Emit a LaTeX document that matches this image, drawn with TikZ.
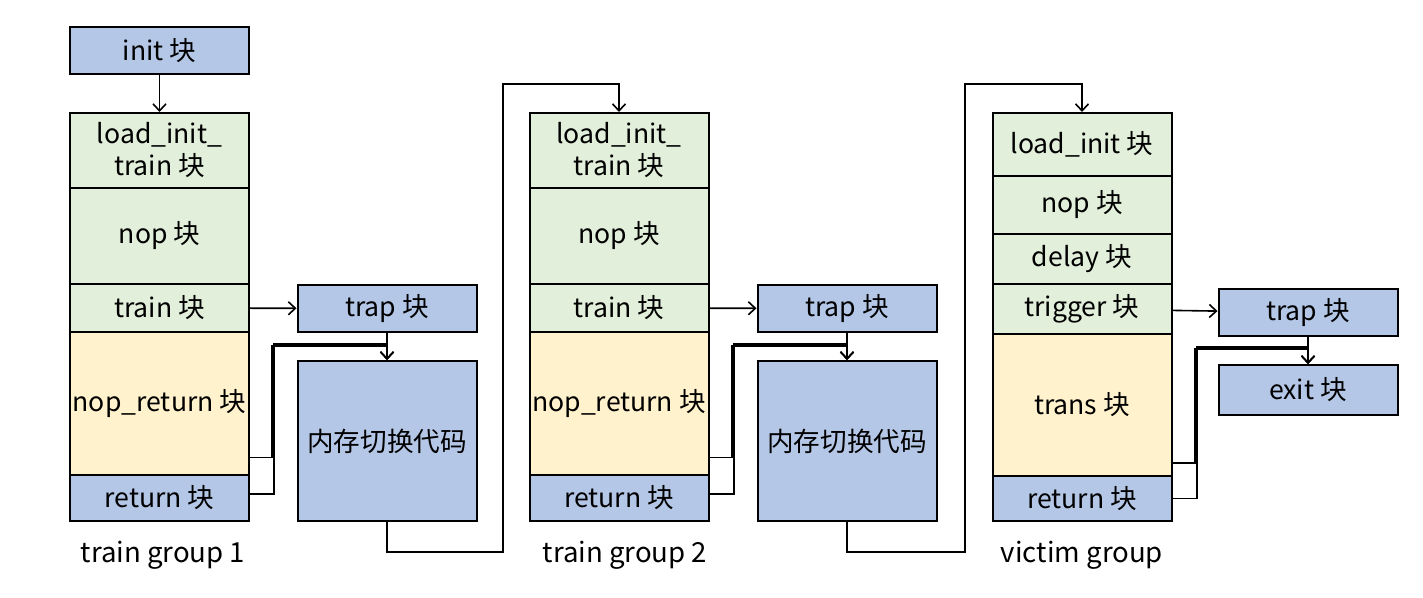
\documentclass[tikz,border=0pt]{standalone}
\usepackage{fontspec}
\setmainfont{Noto Sans CJK SC}
\usetikzlibrary{arrows.meta}
\begin{document}
\begin{tikzpicture}[x=0.5pt,y=-0.5pt,
  blk/.style={draw, line width=1pt, minimum width=89.5pt, inner sep=1pt, align=center,
    font=\fontsize{13.3}{16}\selectfont},
  blueblk/.style={blk, fill=blueclr},
  greenblk/.style={blk, fill=greenclr},
  yellowblk/.style={blk, fill=yellowclr},
  conn/.style={line width=0.8pt, -{Straight Barb[length=3.5pt,width=6.5pt]}},
  grouplabel/.style={font=\fontsize{13.8}{16}\selectfont}]
\definecolor{blueclr}{HTML}{B4C7E7}
\definecolor{greenclr}{HTML}{E2EFDA}
\definecolor{yellowclr}{HTML}{FFF2CC}
\useasboundingbox (0,0) rectangle (1423,598);

\node[blueblk, minimum height=23.5pt] (init) at (159.5,50.5) {init 块};

\node[greenblk, minimum height=37.5pt] (lit1) at (159.5,150.5) {load\_init\_\\train 块};
\node[greenblk, minimum height=48pt] (nop1) at (159.5,236) {nop 块};
\node[greenblk, minimum height=24pt] (train1) at (159.5,308) {train 块};
\node[yellowblk, minimum height=71.5pt] (nopret1) at (159.5,403.5) {nop\_return 块};
\node[blueblk, minimum height=23pt] (ret1) at (159.5,498) {return 块};
\node[blueblk, minimum height=23.5pt] (trap1) at (387,308.5) {trap 块};
\node[blueblk, minimum height=80pt] (mem1) at (387,441) {内存切换代码};
\node[grouplabel] (g1) at (163,555) {train group 1};

\node[greenblk, minimum height=37.5pt] (lit2) at (619,150.5) {load\_init\_\\train 块};
\node[greenblk, minimum height=48pt] (nop2) at (619,236) {nop 块};
\node[greenblk, minimum height=24pt] (train2) at (619,308) {train 块};
\node[yellowblk, minimum height=71.5pt] (nopret2) at (619,403.5) {nop\_return 块};
\node[blueblk, minimum height=23pt] (ret2) at (619,498) {return 块};
\node[blueblk, minimum height=23.5pt] (trap2) at (847,308.5) {trap 块};
\node[blueblk, minimum height=80pt] (mem2) at (847,441) {内存切换代码};
\node[grouplabel] (g2) at (625,555) {train group 2};

\node[greenblk, minimum height=31.5pt] (lit3) at (1082,144.5) {load\_init 块};
\node[greenblk, minimum height=29pt] (nop3) at (1082,205) {nop 块};
\node[greenblk, minimum height=25pt] (delay3) at (1082,259) {delay 块};
\node[greenblk, minimum height=25pt] (trig3) at (1082,309) {trigger 块};
\node[yellowblk, minimum height=71pt] (trans3) at (1082,405) {trans 块};
\node[blueblk, minimum height=22.5pt] (ret3) at (1082,498.5) {return 块};
\node[blueblk, minimum height=23.5pt] (trap3) at (1308,312.5) {trap 块};
\node[blueblk, minimum height=25pt] (exit3) at (1308,390) {exit 块};
\node[grouplabel] (g3) at (1082,555) {victim group};

\draw[conn] (init) -- (lit1);

\draw[conn] (train1) -- (trap1);
\draw[conn] (trap1) -- (mem1);
\draw[conn] ([yshift=-27pt]nopret1.east) -| (272,346) -| (mem1.north);
\draw[conn] ([yshift=2pt]ret1.east) -| (274,344) -| (mem1.north);
\draw[conn] (mem1.south) |- (503,552) -- (503,84) -| (lit2.north);

\draw[conn] (train2) -- (trap2);
\draw[conn] (trap2) -- (mem2);
\draw[conn] ([yshift=-27pt]nopret2.east) -| (732,346) -| (mem2.north);
\draw[conn] ([yshift=2pt]ret2.east) -| (734,344) -| (mem2.north);
\draw[conn] (mem2.south) |- (965,552) -- (965,84) -| (lit3.north);

\draw[conn] (trig3) -- (trap3);
\draw[conn] (trap3) -- (exit3);
\draw[conn] ([yshift=-29pt]trans3.east) -| (1195,349) -| (exit3.north);
\draw[conn] ([yshift=0pt]ret3.east) -| (1197,347) -| (exit3.north);
\end{tikzpicture}
\end{document}
